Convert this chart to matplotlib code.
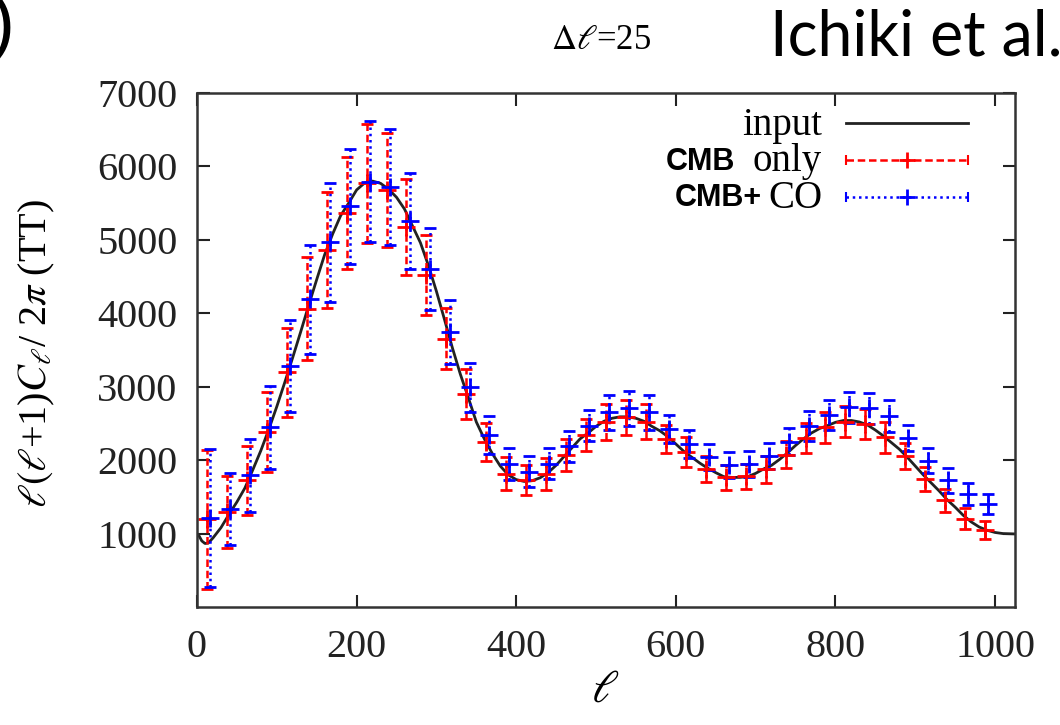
import numpy as np
import matplotlib
matplotlib.use('Agg')
import matplotlib.pyplot as plt

plt.rcParams['font.family'] = ['Liberation Serif', 'DejaVu Serif']
plt.rcParams['mathtext.fontset'] = 'stix'

# bin centres (delta ell = 25)
ell = [12.5 + 25 * i for i in range(40)]

# CMB only (red)
cmb_val = [1194, 1294, 1724, 2388, 3194, 4062, 4867, 5365, 5772, 5682,
           5176, 4515, 3656, 2900, 2244, 1814, 1724, 1814, 2072, 2343,
           2524, 2584, 2524, 2289, 2109, 1882, 1769, 1783, 1873, 2072,
           2298, 2448, 2524, 2493, 2312, 2054, 1746, 1452, 1204, 1045]
cmb_err = [950, 490, 470, 545, 610, 700, 790, 760, 810, 780,
           650, 545, 420, 340, 260, 225, 205, 215, 215, 220,
           245, 240, 240, 190, 200, 175, 170, 170, 180, 185,
           205, 210, 210, 205, 210, 175, 160, 160, 140, 125]

# CMB + CO (blue)
co_val = [1213, 1339, 1791, 2448, 3285, 4189, 4966, 5455, 5794, 5718,
          5252, 4605, 3745, 2991, 2343, 1950, 1845, 1950, 2190, 2470,
          2652, 2706, 2652, 2425, 2221, 2041, 1936, 1950, 2054, 2253,
          2461, 2615, 2719, 2706, 2605, 2298, 1995, 1724, 1543, 1407]
co_err = [945, 490, 500, 565, 630, 740, 815, 780, 825, 785,
          655, 555, 430, 335, 260, 215, 210, 210, 210, 210,
          235, 240, 240, 195, 195, 180, 175, 180, 180, 180,
          205, 210, 210, 210, 215, 175, 170, 165, 150, 135]

# input spectrum
curve_l = [2, 6, 10, 14, 20, 30, 40, 50, 60, 70, 80, 90, 100, 110, 120, 130,
           140, 150, 160, 170, 180, 190, 200, 210, 220, 230, 240, 250, 260,
           270, 280, 290, 300, 310, 320, 330, 340, 350, 360, 370, 380, 390,
           400, 410, 420, 430, 440, 450, 460, 470, 480, 490, 500, 510, 520,
           530, 540, 550, 560, 570, 580, 590, 600, 610, 620, 630, 640, 650,
           660, 670, 680, 690, 700, 710, 720, 730, 740, 750, 760, 770, 780,
           790, 800, 810, 820, 830, 840, 850, 860, 870, 880, 890, 900, 910,
           920, 930, 940, 950, 960, 970, 980, 990, 1000, 1010, 1025]
curve_v = [980, 900, 865, 870, 940, 1080, 1260, 1430, 1620, 1870, 2130, 2420,
           2730, 3060, 3400, 3750, 4110, 4460, 4800, 5080, 5330, 5500, 5680,
           5775, 5800, 5770, 5690, 5580, 5420, 5190, 4960, 4650, 4300, 3920,
           3530, 3170, 2850, 2520, 2290, 2090, 1920, 1800, 1735, 1710, 1720,
           1760, 1830, 1930, 2050, 2170, 2290, 2370, 2460, 2530, 2570, 2590,
           2590, 2570, 2530, 2460, 2400, 2320, 2220, 2120, 2040, 1960, 1890,
           1830, 1775, 1765, 1765, 1775, 1820, 1880, 1930, 2010, 2100, 2200,
           2290, 2370, 2430, 2470, 2515, 2540, 2540, 2520, 2480, 2410, 2330,
           2240, 2150, 2040, 1920, 1800, 1690, 1580, 1460, 1360, 1250, 1160,
           1090, 1045, 1015, 1000, 995]

W, H = 1060, 725
def fx(px):
    return px / W
def fy(py):
    return 1 - py / H

fig = plt.figure(figsize=(10.6, 7.25), dpi=100)
ax = fig.add_axes([fx(197), fy(607), fx(1015) - fx(197), fy(93) - fy(607)])

ax.plot(curve_l, curve_v, color='#222222', lw=2)

x_red = np.array(ell)
x_blue = np.array(ell) + 4

eb1 = ax.errorbar(x_red, cmb_val, yerr=cmb_err, fmt='+', color='red', ms=13,
                  mew=2, capsize=4, capthick=1.5, elinewidth=1.8)
eb1[2][0].set_linestyle((0, (3, 1.5)))
eb2 = ax.errorbar(x_blue, co_val, yerr=co_err, fmt='+', color='blue', ms=13,
                  mew=2, capsize=4, capthick=1.5, elinewidth=1.8)
eb2[2][0].set_linestyle((0, (1, 1.5)))

ax.set_xlim(0, 1025)
ax.set_ylim(0, 7000)
ax.set_xticks([0, 200, 400, 600, 800, 1000])
ax.set_yticks([1000, 2000, 3000, 4000, 5000, 6000, 7000])
ax.tick_params(direction='in', length=9, width=1.5, top=True, right=True,
               labelsize=29, colors='#222222')
ax.tick_params(axis='x', pad=16)
ax.tick_params(axis='y', pad=14)
for s in ax.spines.values():
    s.set_linewidth(1.8)
    s.set_color('#333333')

fig.text(fx(605), fy(690), r'$\ell$', fontsize=33, ha='center', va='center')
fig.text(fx(37), fy(353), r'$\ell(\ell$+1)$C_\ell$/ 2$\pi$ (TT)', fontsize=29,
         rotation=90, ha='center', va='center')

fig.text(fx(601), fy(40), r'$\Delta\ell$=25', fontsize=25, ha='center', va='center')
fig.text(fx(1062), fy(38), 'Ichiki et al.', fontsize=45, ha='right', va='center',
         family=['Lato', 'Liberation Sans', 'DejaVu Sans'])
fig.text(fx(14), fy(28), ')', fontsize=54, ha='right', va='center',
         family=['Liberation Sans', 'DejaVu Sans'])

# legend drawn by hand (mixed fonts)
fig.text(fx(822), fy(125), 'input', fontsize=28, ha='right', va='center')
fig.text(fx(822), fy(162), 'only', fontsize=28, ha='right', va='center')
fig.text(fx(735), fy(162), 'CMB', fontsize=22, ha='right', va='center',
         weight='bold', family=['Liberation Sans', 'DejaVu Sans'])
fig.text(fx(822), fy(198), 'CO', fontsize=28, ha='right', va='center')
fig.text(fx(762), fy(198), 'CMB+', fontsize=22, ha='right', va='center',
         weight='bold', family=['Liberation Sans', 'DejaVu Sans'])

lx = [fx(846), fx(968)]
fig.add_artist(plt.Line2D(lx, [fy(123)] * 2, color='#222222', lw=2))
fig.add_artist(plt.Line2D(lx, [fy(160)] * 2, color='red', lw=1.8,
                          ls=(0, (3, 1.5))))
fig.add_artist(plt.Line2D(lx, [fy(160)] * 2, color='red', lw=0, marker='|',
                          ms=7, mew=1.5))
fig.add_artist(plt.Line2D([fx(907)], [fy(160)], color='red', lw=0, marker='+',
                          ms=12, mew=2))
fig.add_artist(plt.Line2D(lx, [fy(197)] * 2, color='blue', lw=1.8,
                          ls=(0, (1, 1.5))))
fig.add_artist(plt.Line2D(lx, [fy(197)] * 2, color='blue', lw=0, marker='|',
                          ms=7, mew=1.5))
fig.add_artist(plt.Line2D([fx(907)], [fy(197)], color='blue', lw=0, marker='+',
                          ms=12, mew=2))

fig.savefig('out.png', dpi=100)
plt.close()
